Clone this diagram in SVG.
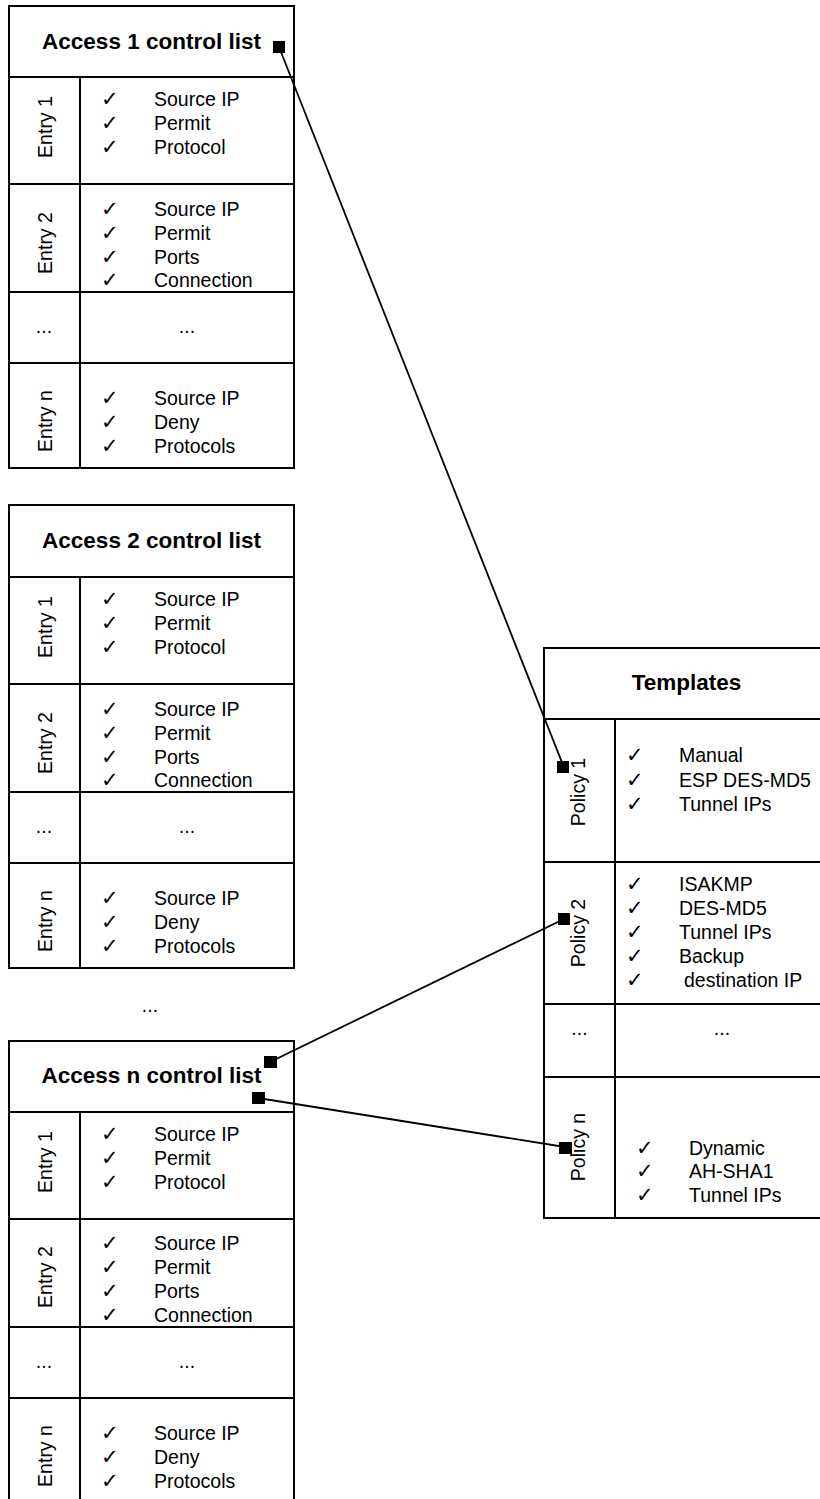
<svg xmlns="http://www.w3.org/2000/svg" width="820" height="1499" viewBox="0 0 820 1499">
<style>
.bg{fill:#fff}
.b{fill:none;stroke:#000;stroke-width:2}
.t{font-family:"Liberation Sans",Arial,sans-serif;font-size:19.5px;fill:#000}
.h{font-family:"Liberation Sans",Arial,sans-serif;font-size:22.5px;font-weight:bold;fill:#000;text-anchor:middle}
.ck{font-family:"DejaVu Sans",sans-serif;font-size:21px;fill:#000}
.c{text-anchor:middle}
.sq{fill:#000}
.ln{stroke:#000;stroke-width:1.8;fill:none}
</style>
<rect class="bg" x="0" y="0" width="820" height="1499"/>

<g id="acl1">
<rect class="b" x="9" y="6" width="285" height="462"/>
<path class="b" d="M9 77H294M80 77V468M9 184H294M9 292H294M9 363H294"/>
<text class="h" x="151.5" y="49">Access 1 control list</text>
<text class="t c" transform="translate(51.5,127) rotate(-90)">Entry 1</text>
<text class="t c" transform="translate(51.5,243) rotate(-90)">Entry 2</text>
<text class="t c" transform="translate(51.5,421) rotate(-90)">Entry n</text>
<text class="t c" x="44" y="333">...</text>
<text class="t c" x="187" y="333">...</text>
<g class="ck"><text x="101" y="106">✓</text><text x="101" y="130">✓</text><text x="101" y="154">✓</text>
<text x="101" y="216">✓</text><text x="101" y="240">✓</text><text x="101" y="264">✓</text><text x="101" y="287">✓</text>
<text x="101" y="405">✓</text><text x="101" y="429">✓</text><text x="101" y="453">✓</text></g>
<g class="t"><text x="154" y="106">Source IP</text><text x="154" y="130">Permit</text><text x="154" y="154">Protocol</text>
<text x="154" y="216">Source IP</text><text x="154" y="240">Permit</text><text x="154" y="264">Ports</text><text x="154" y="287">Connection</text>
<text x="154" y="405">Source IP</text><text x="154" y="429">Deny</text><text x="154" y="453">Protocols</text></g>
</g>

<g id="acl2" transform="translate(0,500)">
<rect class="b" x="9" y="5" width="285" height="463"/>
<path class="b" d="M9 77H294M80 77V468M9 184H294M9 292H294M9 363H294"/>
<text class="h" x="151.5" y="48">Access 2 control list</text>
<text class="t c" transform="translate(51.5,127) rotate(-90)">Entry 1</text>
<text class="t c" transform="translate(51.5,243) rotate(-90)">Entry 2</text>
<text class="t c" transform="translate(51.5,421) rotate(-90)">Entry n</text>
<text class="t c" x="44" y="333">...</text>
<text class="t c" x="187" y="333">...</text>
<g class="ck"><text x="101" y="106">✓</text><text x="101" y="130">✓</text><text x="101" y="154">✓</text>
<text x="101" y="216">✓</text><text x="101" y="240">✓</text><text x="101" y="264">✓</text><text x="101" y="287">✓</text>
<text x="101" y="405">✓</text><text x="101" y="429">✓</text><text x="101" y="453">✓</text></g>
<g class="t"><text x="154" y="106">Source IP</text><text x="154" y="130">Permit</text><text x="154" y="154">Protocol</text>
<text x="154" y="216">Source IP</text><text x="154" y="240">Permit</text><text x="154" y="264">Ports</text><text x="154" y="287">Connection</text>
<text x="154" y="405">Source IP</text><text x="154" y="429">Deny</text><text x="154" y="453">Protocols</text></g>
</g>

<text id="ellipsis" class="t c" x="150" y="1012">...</text>

<g id="acln" transform="translate(0,1035)">
<rect class="b" x="9" y="6" width="285" height="462"/>
<path class="b" d="M9 77H294M80 77V468M9 184H294M9 292H294M9 363H294"/>
<text class="h" x="151.5" y="48">Access n control list</text>
<text class="t c" transform="translate(51.5,127) rotate(-90)">Entry 1</text>
<text class="t c" transform="translate(51.5,242) rotate(-90)">Entry 2</text>
<text class="t c" transform="translate(51.5,421) rotate(-90)">Entry n</text>
<text class="t c" x="44" y="333">...</text>
<text class="t c" x="187" y="333">...</text>
<g class="ck"><text x="101" y="106">✓</text><text x="101" y="130">✓</text><text x="101" y="154">✓</text>
<text x="101" y="215">✓</text><text x="101" y="239">✓</text><text x="101" y="263">✓</text><text x="101" y="287">✓</text>
<text x="101" y="405">✓</text><text x="101" y="429">✓</text><text x="101" y="453">✓</text></g>
<g class="t"><text x="154" y="106">Source IP</text><text x="154" y="130">Permit</text><text x="154" y="154">Protocol</text>
<text x="154" y="215">Source IP</text><text x="154" y="239">Permit</text><text x="154" y="263">Ports</text><text x="154" y="287">Connection</text>
<text x="154" y="405">Source IP</text><text x="154" y="429">Deny</text><text x="154" y="453">Protocols</text></g>
</g>

<g id="templates">
<rect class="b" x="544" y="648" width="285" height="570"/>
<path class="b" d="M544 719H829M615 719V1218M544 862H829M544 1004H829M544 1077H829"/>
<text class="h" x="686.5" y="690">Templates</text>
<text class="t c" transform="translate(585,792) rotate(-90)">Policy 1</text>
<text class="t c" transform="translate(585,933) rotate(-90)">Policy 2</text>
<text class="t c" transform="translate(585,1147) rotate(-90)">Policy n</text>
<text class="t c" x="579.5" y="1035">...</text>
<text class="t c" x="722" y="1035">...</text>
<g class="ck"><text x="626" y="762">✓</text><text x="626" y="787">✓</text><text x="626" y="811">✓</text>
<text x="626" y="891">✓</text><text x="626" y="915">✓</text><text x="626" y="939">✓</text><text x="626" y="963">✓</text><text x="626" y="987">✓</text>
<text x="636" y="1155">✓</text><text x="636" y="1178">✓</text><text x="636" y="1202">✓</text></g>
<g class="t"><text x="679" y="762">Manual</text><text x="679" y="787">ESP DES-MD5</text><text x="679" y="811">Tunnel IPs</text>
<text x="679" y="891">ISAKMP</text><text x="679" y="915">DES-MD5</text><text x="679" y="939">Tunnel IPs</text><text x="679" y="963">Backup</text><text x="684" y="987">destination IP</text>
<text x="689" y="1155">Dynamic</text><text x="689" y="1178">AH-SHA1</text><text x="689" y="1202">Tunnel IPs</text></g>
</g>

<g id="connectors">
<line class="ln" x1="279" y1="47" x2="563" y2="765"/>
<line class="ln" x1="270" y1="1062" x2="564" y2="919"/>
<line class="ln" x1="258" y1="1098" x2="565" y2="1147"/>
<rect class="sq" x="273" y="41" width="12" height="12"/>
<rect class="sq" x="557" y="761" width="12" height="12"/>
<rect class="sq" x="264" y="1056" width="13" height="12"/>
<rect class="sq" x="558" y="913" width="12" height="12"/>
<rect class="sq" x="252" y="1092" width="13" height="12"/>
<rect class="sq" x="559" y="1142" width="13" height="12"/>
</g>
</svg>
